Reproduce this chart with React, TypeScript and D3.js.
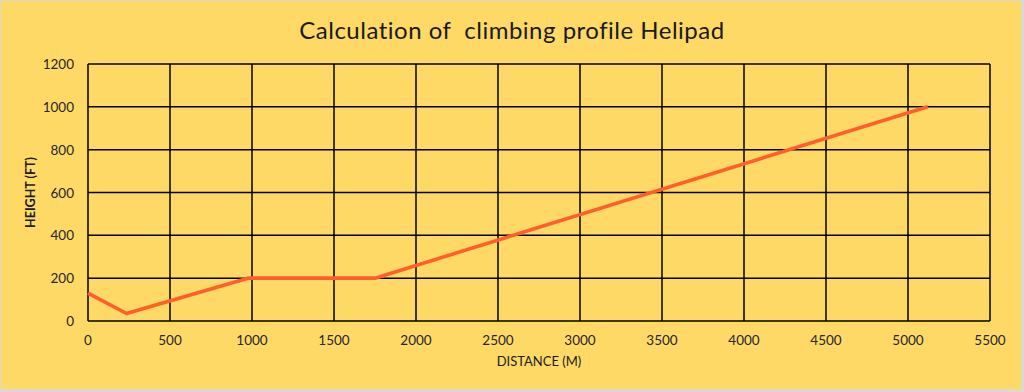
import * as d3 from "d3";

const distances = [0, 235, 975, 1750, 5120];
const heights = [130, 35, 200, 200, 1000];
const xTicks = [0, 500, 1000, 1500, 2000, 2500, 3000, 3500, 4000, 4500, 5000, 5500];
const yTicks = [0, 200, 400, 600, 800, 1000, 1200];

const W = 1024;
const H = 392;
const margin = { left: 88, right: 34, top: 64, bottom: 71 };
const font = "Lato, 'Open Sans', sans-serif";

export default function App() {
  const x = d3.scaleLinear().domain([0, 5500]).range([margin.left, W - margin.right]);
  const y = d3.scaleLinear().domain([0, 1200]).range([H - margin.bottom, margin.top]);

  const pts = distances.map((d, i) => [d, heights[i]] as [number, number]);
  const line = d3
    .line<[number, number]>()
    .x((d) => x(d[0]))
    .y((d) => y(d[1]));

  const x0 = x.range()[0];
  const x1 = x.range()[1];
  const y0 = y.range()[0];
  const y1 = y.range()[1];

  return (
    <div style={{ position: "fixed", left: 0, top: 0 }}>
      <svg width={W} height={H} style={{ display: "block" }}>
        <rect x={0} y={0} width={W} height={H} fill="#DCD8D4" />
        <rect x={1} y={1} width={1020} height={388} fill="#FFD966" />
        <text
          x={512}
          y={39}
          textAnchor="middle"
          fontFamily={font}
          fontSize={24}
          letterSpacing={0.5}
          fill="#1a1a1a"
          style={{ whiteSpace: "pre" }}
        >
          {"Calculation of  climbing profile Helipad"}
        </text>

        {/* grid */}
        {xTicks.map((t) => (
          <line key={"gx" + t} x1={x(t)} x2={x(t)} y1={y0} y2={y1} stroke="#000" strokeWidth={1.5} />
        ))}
        {yTicks.map((t) => (
          <line key={"gy" + t} x1={x0} x2={x1} y1={y(t)} y2={y(t)} stroke="#000" strokeWidth={1.5} />
        ))}

        {/* tick labels */}
        {xTicks.map((t) => (
          <text key={"tx" + t} x={x(t)} y={y0 + 24} textAnchor="middle" fontFamily={font} fontSize={13.5} fill="#262626">
            {t}
          </text>
        ))}
        {yTicks.map((t) => (
          <text key={"ty" + t} x={x0 - 14} y={y(t) + 5} textAnchor="end" fontFamily={font} fontSize={13.5} fill="#262626">
            {t}
          </text>
        ))}

        <path d={line(pts) ?? ""} fill="none" stroke="#FF5F2B" strokeWidth={3.6} strokeLinejoin="round" />

        <text
          x={(x0 + x1) / 2}
          y={366}
          textAnchor="middle"
          fontFamily={font}
          fontSize={13}
          fill="#1a1a1a"
        >
          DISTANCE (M)
        </text>
        <text
          transform={`translate(35, ${(y0 + y1) / 2}) rotate(-90)`}
          textAnchor="middle"
          fontFamily={font}
          fontSize={12.5}
          fontWeight="bold"
          fill="#1a1a1a"
        >
          HEIGHT (FT)
        </text>
      </svg>
    </div>
  );
}
